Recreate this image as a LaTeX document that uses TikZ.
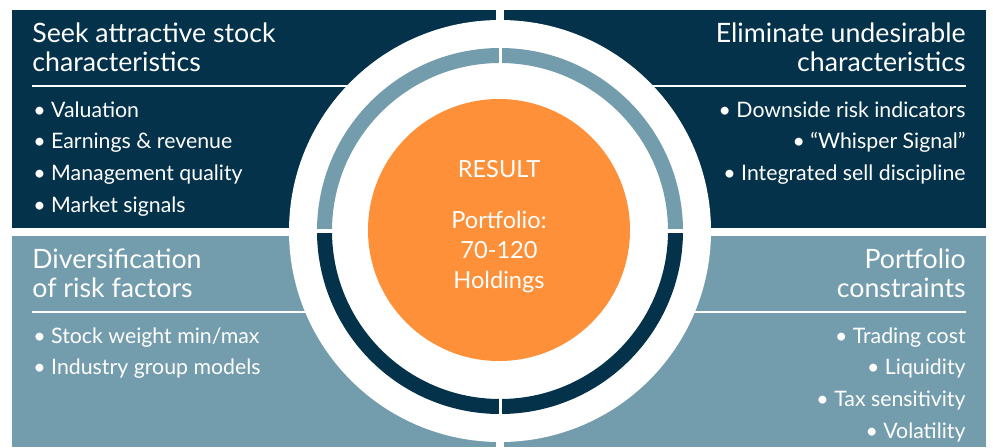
\documentclass[tikz,border=0pt]{standalone}
\usepackage{fontspec}
\setmainfont{Lato}
\definecolor{navy}{HTML}{04324A}
\definecolor{steel}{HTML}{739DAD}
\definecolor{resultorange}{HTML}{FE903A}
\tikzset{
  head/.style={white,inner sep=0pt,font=\fontsize{13.35}{15}\selectfont},
  item/.style={white,inner sep=0pt,font=\fontsize{10.65}{12}\selectfont},
  mid/.style={white,inner sep=0pt,anchor=base,font=\fontsize{11.8}{14}\selectfont},
}
\begin{document}
\begin{tikzpicture}[x=0.5pt,y=-0.5pt]
    \useasboundingbox (0,0) rectangle (993,447);
    \fill[navy] (12,10) rectangle (496,228);
    \fill[navy] (504,10) rectangle (986,228);
    \fill[steel] (12,236) rectangle (496,447);
    \fill[steel] (504,236) rectangle (986,447);
    \draw[white,line width=1pt] (32,86) -- (496,86);
    \draw[white,line width=1pt] (504,86) -- (966,86);
    \draw[white,line width=1pt] (32,312) -- (496,312);
    \draw[white,line width=1pt] (504,312) -- (966,312);
    % rings round the result
    \fill[white] (500,231) circle (211);
    \fill[steel] (317,231) arc[start angle=180,end angle=360,radius=183] -- (668,231) arc[start angle=0,end angle=-180,radius=168] -- cycle;
    \fill[navy] (683,231) arc[start angle=0,end angle=180,radius=183] -- (332,231) arc[start angle=180,end angle=0,radius=168] -- cycle;
    \draw[white,line width=1.5pt] (500,40) -- (500,420);
    \draw[white,line width=2pt] (300,231) -- (700,231);
    \fill[resultorange] (499,230) circle (131);
    \node[mid] (result) at (499,177) {RESULT};
    \node[mid] (port) at (499,228) {Portfolio:};
    \node[mid] (range) at (499,258) {70-120};
    \node[mid] (hold) at (499,288) {Holdings};
    % headers
    \node[head,anchor=base west] (seek1) at (32,42) {Seek attractive stock};
    \node[head,anchor=base west] (seek2) at (32,71) {characteristics};
    \node[head,anchor=base east] (elim1) at (966,42) {Eliminate undesirable};
    \node[head,anchor=base east] (elim2) at (966,71) {characteristics};
    \node[head,anchor=base west] (div1) at (32,268) {Diversification};
    \node[head,anchor=base west] (div2) at (32,297) {of risk factors};
    \node[head,anchor=base east] (cons1) at (966,268) {Portfolio};
    \node[head,anchor=base east] (cons2) at (966,297) {constraints};
    % bullets
    \foreach \t [count=\i] in {Valuation,{Earnings \& revenue},Management quality,Market signals}
      \node[item,anchor=base west] (seek\i) at (33,{117+31.7*(\i-1)}) {• \t};
    \foreach \t [count=\i] in {Downside risk indicators,{“Whisper Signal”},Integrated sell discipline}
      \node[item,anchor=base east] (elim\i) at (966,{117+31.7*(\i-1)}) {• \t};
    \foreach \t [count=\i] in {Stock weight min/max,Industry group models}
      \node[item,anchor=base west] (div\i) at (33,{343+31.7*(\i-1)}) {• \t};
    \foreach \t [count=\i] in {Trading cost,Liquidity,Tax sensitivity,Volatility}
      \node[item,anchor=base east] (cons\i) at (966,{343+31.7*(\i-1)}) {• \t};
\end{tikzpicture}
\end{document}
